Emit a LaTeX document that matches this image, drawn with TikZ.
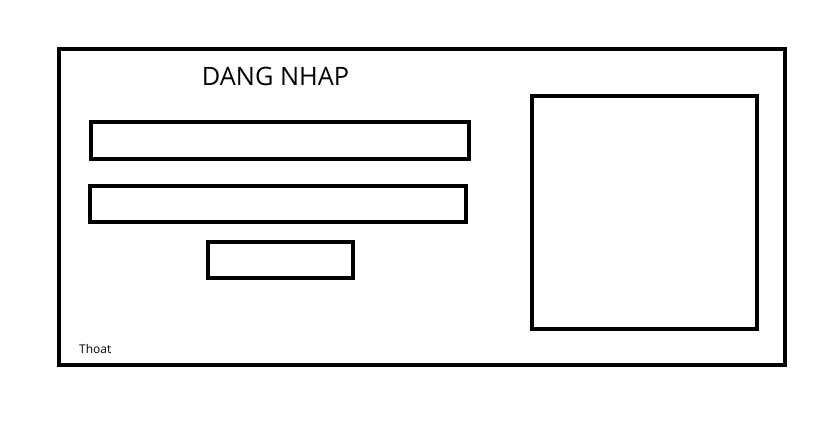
\documentclass[tikz,border=0pt]{standalone}
\usepackage{fontspec}
\setmainfont{Open Sans}
\begin{document}
\begin{tikzpicture}[x=0.75pt,y=-0.75pt,
    frame/.style={draw=black,line width=3pt},
    field/.style={draw=black,line width=2.4pt}]
      \useasboundingbox (0,0) rectangle (826,428);
      \draw[frame] (59,49) rectangle (785,365);
      \node[font=\fontsize{19}{21}\selectfont] (title) at (275.5,76) {DANG NHAP};
      \draw[field] (91,122) rectangle (469,159);
      \draw[field] (90,186) rectangle (466,222);
      \draw[field] (208,242) rectangle (353,278);
      \draw[field] (532,96) rectangle (757,329);
      \node[font=\fontsize{9}{10}\selectfont,anchor=west] (thoat) at (74.5,349) {Thoat};
    \end{tikzpicture}
\end{document}
